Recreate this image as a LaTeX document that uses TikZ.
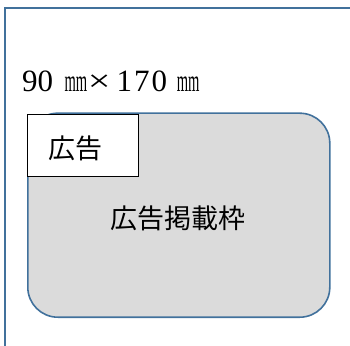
\documentclass[tikz,border=0pt]{standalone}
\usepackage{fontspec}
\usepackage{graphicx}
\setmainfont{Liberation Serif}
\newfontfamily\cjk{Noto Sans CJK JP}
\definecolor{frameblue}{HTML}{41719C}
\definecolor{boxgray}{HTML}{DBDBDB}
\newcommand{\mmunit}{\scalebox{0.47}[1]{mm}}
\tikzset{
  outline/.style={draw=frameblue, line width=2pt},
  panelbox/.style={draw=frameblue, fill=boxgray, line width=1.6pt, rounded corners=30pt,
    minimum width=302pt, minimum height=204pt, inner sep=0pt, anchor=south west},
  tagbox/.style={draw=black, fill=white, line width=0.9pt, minimum width=111pt,
    minimum height=62pt, inner sep=0pt, anchor=north west},
  bigtext/.style={font=\fontsize{27}{30}\selectfont\cjk, inner sep=0pt}
}
\begin{document}
\begin{tikzpicture}[x=1pt,y=1pt]
\useasboundingbox (0,0) rectangle (350,345);
\coordinate (fb) at (5,-3);
\coordinate (fc) at (5,337);
\coordinate (fr) at (353,337);
\draw[outline] (fb) -- (fc) -- (fr);
\node[panelbox] (panel) at (27,27) {};
\node[tagbox] (tag) at (27,231) {};
\node[bigtext] (tagtext) at (75,197) {広告};
\node[bigtext] (paneltext) at (178,127) {広告掲載枠};
\node[anchor=base west, inner sep=0pt, font=\fontsize{31}{33}\selectfont] (dims) at (22,253)
  {90\hspace{11.3pt}\mmunit\hspace{0.6pt}\scalebox{1.3}[1]{×}\hspace{6.1pt}1\hspace{2pt}7\hspace{2pt}0\hspace{9.8pt}\mmunit};
\end{tikzpicture}
\end{document}
